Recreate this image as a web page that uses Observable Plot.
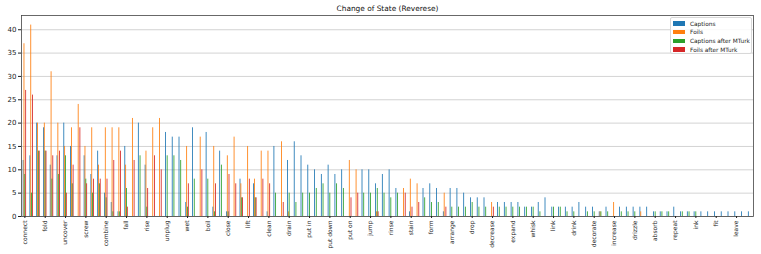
<!DOCTYPE html>
<html>
<head>
<meta charset="utf-8">
<script src="https://cdn.jsdelivr.net/npm/d3@7"></script>
<script src="https://cdn.jsdelivr.net/npm/@observablehq/plot@0.6"></script>
<style>
  html, body { margin: 0; padding: 0; background: #fff; }
  #wrap { position: relative; width: 761px; height: 254px; font-family: "DejaVu Sans", sans-serif; }
  #legend { position: absolute; left: 670px; top: 17px; width: 82px; height: 37px; box-sizing: border-box;
            border: 1px solid #d8d8d8; border-radius: 2px; background: rgba(255,255,255,0.85); }
  .row { position: absolute; left: 0; height: 8px; display: flex; align-items: center; font-size: 5.8px; color: #222; white-space: nowrap; }
  .sw { width: 12px; height: 4.5px; margin-left: 2px; margin-right: 5px; }
</style>
</head>
<body>
<div id="wrap"><div id="chart"></div><div id="legend"></div></div>
<script>
const title = "Change of State (Reverese)";
const seriesNames = ["Captions", "Foils", "Captions after MTurk", "Foils after MTurk"];
const colors = ["#1f77b4", "#ff7f0e", "#2ca02c", "#d62728"];
const yTicks = [0, 5, 10, 15, 20, 25, 30, 35, 40];

// tick labels (every third category is labelled in the reference)
const labels = ["connect","fold","uncover","screw","combine","fall","rise","unplug","wet","boil",
  "close","lift","clean","drain","put in","put down","put on","jump","rinse","stain",
  "form","arrange","drop","decrease","expand","whisk","link","drink","decorate","increase",
  "drizzle","absorb","repeat","ink","fit","leave"];

const captions = [12,13,20,19,11,13,20,15,0,13, 9,14,5,3,1,15,0,20,11,0,
  0,18,17,17,3,19,0,18,2,14, 1,0,8,0,7,0,1,15,0,12,
  16,13,11,10,9,11,9,10,0,0, 10,10,7,9,10,6,0,1,0,6,
  7,6,1,6,6,5,4,4,4,0, 3,3,3,3,2,2,3,4,2,2,
  2,2,3,2,2,1,2,0,2,2, 2,2,2,1,1,1,2,1,1,1,
  1,1,1,1,1,1,1,1];
const foils = [37,41,20,20,31,20,15,19,24,15, 19,11,19,19,19,11,21,0,14,19,
  21,0,0,0,15,0,17,0,15,0, 13,17,7,15,8,14,14,0,16,1,
  0,0,0,0,0,0,0,0,12,10, 0,0,1,0,0,0,6,8,7,0,
  0,0,5,0,0,0,0,0,0,3, 0,0,0,0,0,0,0,0,0,0,
  0,0,0,0,0,1,0,3,0,0, 0,1,0,0,0,0,0,0,0,0,
  0,0,0,0,0,0,0,0];
const captionsMTurk = [9,5,14,14,8,9,13,7,0,8, 5,7,4,1,1,6,0,13,2,0,
  0,13,13,12,2,8,0,8,1,11, 1,0,4,0,4,0,0,5,0,5,
  3,5,5,6,7,5,7,6,0,0, 5,5,6,5,4,5,0,0,0,4,
  3,3,0,2,2,2,3,2,2,0, 2,2,2,2,2,2,1,0,2,2,
  1,1,0,1,1,1,1,0,1,1, 1,0,0,1,1,1,0,1,1,1,
  0,0,0,0,0,0,0,0];
const foilsMTurk = [27,26,14,14,13,14,5,11,19,7, 8,8,8,12,14,2,12,0,6,13,
  10,0,0,0,7,0,10,0,7,0, 9,7,4,8,4,8,7,0,3,0,
  0,0,0,0,0,0,0,0,4,5, 0,0,1,0,0,0,5,2,3,0,
  0,0,2,0,0,0,0,0,0,2, 0,0,0,0,0,0,0,0,0,0,
  0,0,0,0,0,0,0,0,0,0, 0,0,0,0,0,0,0,0,0,0,
  0,0,0,0,0,0,0,0];

const series = [captions, foils, captionsMTurk, foilsMTurk];
const n = captions.length;
const barW = 0.125; // each bar's share of a category slot (pandas: 0.5 / 4)

const data = [];
series.forEach((vals, s) => {
  vals.forEach((v, i) => {
    const c = i + (s - 1.5) * barW;
    data.push({i, s: seriesNames[s], v, x1: c - barW / 2, x2: c + barW / 2});
  });
});

const chart = Plot.plot({
  width: 761,
  height: 254,
  marginLeft: 21,
  marginRight: 8,
  marginTop: 15,
  marginBottom: 38,
  style: {fontFamily: "DejaVu Sans, sans-serif", background: "#fff", color: "#222"},
  x: {domain: [-0.5, n - 0.5], label: null},
  y: {domain: [0, 41 * 1.05], label: null},
  color: {domain: seriesNames, range: colors},
  marks: [
    Plot.gridY(yTicks, {stroke: "#c8c8c8", strokeOpacity: 1, strokeWidth: 0.8}),
    Plot.rectY(data, {x1: "x1", x2: "x2", y: "v", fill: "s", inset: 0}),
    Plot.frame({stroke: "#444", strokeWidth: 0.8}),
    Plot.axisY({ticks: yTicks, tickSize: 3, tickPadding: 2, fontSize: 7, label: null}),
    Plot.axisX({ticks: d3.range(0, n, 3), tickFormat: i => labels[i / 3], tickRotate: -90,
                tickSize: 2, tickPadding: 2, fontSize: 6, label: null}),
    Plot.text([title], {frameAnchor: "top", lineAnchor: "middle", dy: -7, fontSize: 7.4, fill: "#111"})
  ]
});
document.getElementById("chart").appendChild(chart);

const legend = document.getElementById("legend");
seriesNames.forEach((name, k) => {
  const row = document.createElement("div");
  row.className = "row";
  row.style.top = (1.5 + k * 8.7) + "px";
  const sw = document.createElement("span");
  sw.className = "sw";
  sw.style.background = colors[k];
  row.appendChild(sw);
  row.appendChild(document.createTextNode(name));
  legend.appendChild(row);
});
</script>
</body>
</html>
